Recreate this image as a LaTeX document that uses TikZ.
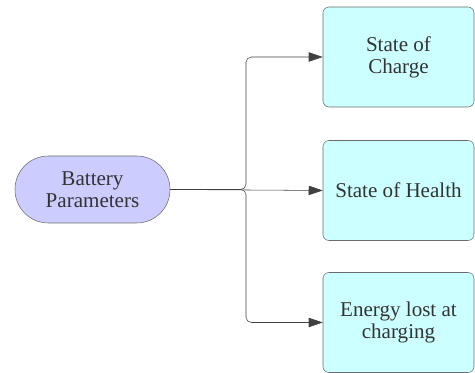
\documentclass[tikz,border=0pt]{standalone}
\usepackage{fontspec}
\setmainfont{Liberation Serif}
\usetikzlibrary{arrows.meta}
\definecolor{lavender}{HTML}{CCCCFF}
\definecolor{paleCyan}{HTML}{CCFFFF}
\definecolor{edgeGray}{HTML}{6B6B6B}
\definecolor{textGray}{HTML}{333333}
\begin{document}
\begin{tikzpicture}[x=0.75pt,y=0.75pt,
  every node/.style={font=\fontsize{15.8}{16.5}\selectfont,text=textGray,align=center},
  param/.style={draw=edgeGray,fill=lavender,rounded corners=25pt,minimum width=116.25pt,minimum height=50.25pt},
  result/.style={draw=edgeGray,fill=paleCyan,rounded corners=4.5pt,minimum width=113.25pt,minimum height=75pt},
  link/.style={draw=black!75,-{Triangle[length=10.5pt,width=7pt]},rounded corners=4pt}]
  \useasboundingbox (0,0) rectangle (475,373);
  \node[param] (params) at (92.5,183.5) {Battery\\Parameters};
  \node[result] (soc) at (398.5,316) {State of\\Charge};
  \node[result] (soh) at (398.5,182.5) {State of Health};
  \node[result] (elc) at (398.5,50.5) {Energy lost at\\charging};
  \coordinate (split) at (246,183.5);
  \draw[link] (params.east) -- (split) |- (soc.west);
  \draw[link] (params.east) -- (soh.west);
  \draw[link] (params.east) -- (split) |- (elc.west);
\end{tikzpicture}
\end{document}
